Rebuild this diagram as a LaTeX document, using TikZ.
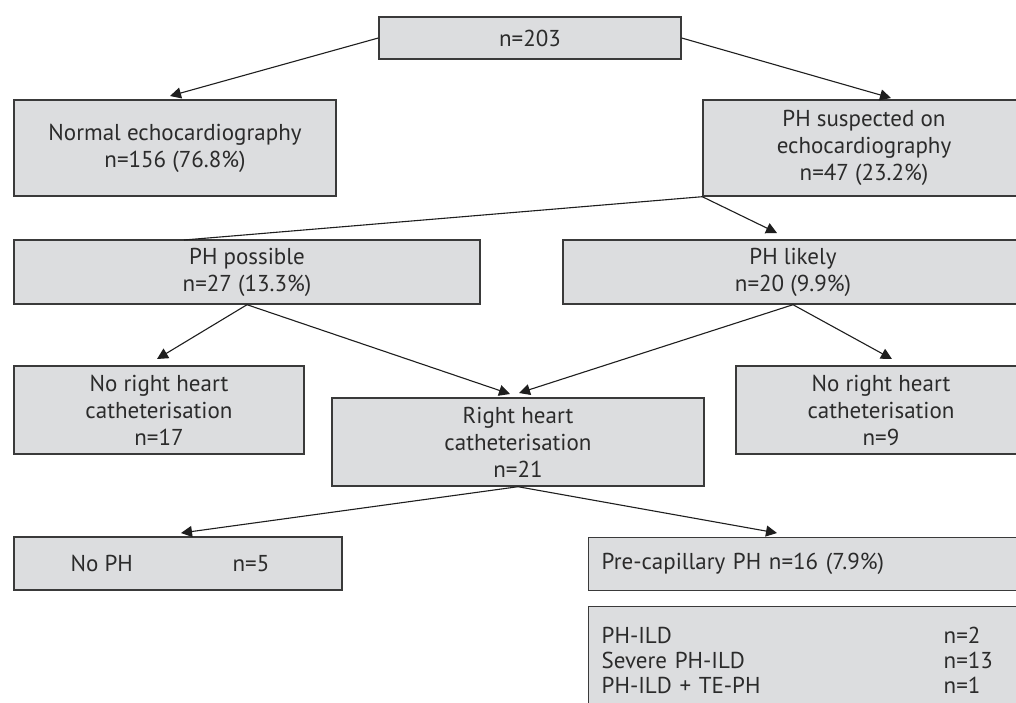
\documentclass[tikz,border=0pt]{standalone}
\usepackage{fontspec}
\setmainfont{PT Sans}
\usetikzlibrary{arrows.meta}
\definecolor{boxfill}{HTML}{DCDDDF}
\definecolor{boxline}{HTML}{3A3A3A}
\definecolor{txtcol}{HTML}{2B2B2B}
\definecolor{conncol}{HTML}{1E1E1E}
\begin{document}
\begin{tikzpicture}[x=1pt,y=-1pt,
  box/.style={draw=boxline, fill=boxfill, line width=1.4pt, inner sep=0pt, align=center, text=txtcol, font=\fontsize{23}{27}\selectfont},
  connline/.style={draw=conncol, line width=1.1pt},
  arr/.style={connline, -{Triangle[length=11pt,width=11pt]}}]
\useasboundingbox (0,0) rectangle (1016,702);
\clip (0,0) rectangle (1016,702);
\fill[white] (0,0) rectangle (1016,702);

% boxes
\node[box, minimum width=302pt, minimum height=42pt] (top) at (530,38) {n=203};
\node[box, minimum width=322pt, minimum height=96pt] (normal) at (175,148) {Normal echocardiography\\n=156 (76.8\%)};
\node[box, minimum width=322pt, minimum height=96pt] (susp) at (864,148) {PH suspected on\\echocardiography\\n=47 (23.2\%)};
\node[box, minimum width=466pt, minimum height=64pt] (poss) at (247,272) {PH possible\\n=27 (13.3\%)};
\node[box, minimum width=460pt, minimum height=64pt] (lik) at (793,272) {PH likely\\n=20 (9.9\%)};
\node[box, minimum width=290pt, minimum height=88pt] (norhcA) at (159,410) {No right heart\\catheterisation\\n=17};
\node[box, minimum width=372pt, minimum height=88pt] (rhc) at (518,442) {Right heart\\catheterisation\\n=21};
\node[box, minimum width=290pt, minimum height=88pt] (norhcB) at (881,410) {No right heart\\catheterisation\\n=9};
\node[box, minimum width=328pt, minimum height=53pt] (noph) at (178,563.5) {\makebox[162pt][l]{No PH}n=5\hspace{16pt}};
\node[box, anchor=north west, minimum height=53pt, text width=416pt, align=left, inner xsep=13pt] (pre) at (588,537) {Pre-capillary PH n=16 (7.9\%)};
\node[box, anchor=north west, text width=416pt, align=left, inner xsep=13pt, inner ysep=20pt, font=\fontsize{23}{25}\selectfont] (det) at (588,606)
  {\makebox[342pt][l]{PH-ILD}n=2\\\makebox[342pt][l]{Severe PH-ILD}n=13\\\makebox[342pt][l]{PH-ILD + TE-PH}n=1};

% free ends
\coordinate (tNormal) at (170,96);
\coordinate (tSusp) at (891,98);
\coordinate (ePoss) at (184,240);
\coordinate (tLik) at (777,233);
\coordinate (tA) at (157,359);
\coordinate (tB) at (510,394);
\coordinate (tC) at (519,393);
\coordinate (tD) at (892,359);
\coordinate (tE) at (181,533);
\coordinate (tF) at (777,533);

% connectors
\draw[arr] (top.west) -- (tNormal);
\draw[arr] (top.east) -- (tSusp);
\draw[connline] (susp.south west) -- (ePoss);
\draw[arr] (susp.south west) -- (tLik);
\draw[arr] (poss.south) -- (tA);
\draw[arr] (poss.south) -- (tB);
\draw[arr] (lik.south) -- (tC);
\draw[arr] (lik.south) -- (tD);
\draw[arr] (rhc.south) -- (tE);
\draw[arr] (rhc.south) -- (tF);
\end{tikzpicture}
\end{document}
